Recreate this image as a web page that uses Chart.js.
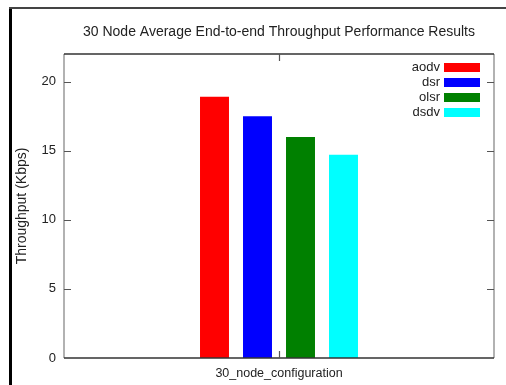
<!DOCTYPE html>
<html>
<head>
<meta charset="utf-8">
<title>30 Node Average End-to-end Throughput</title>
<script src="https://cdn.jsdelivr.net/npm/chart.js@4/dist/chart.umd.min.js"></script>
<style>
  html, body { margin: 0; padding: 0; background: #fff; }
  canvas { display: block; }
</style>
</head>
<body>
<canvas id="chart" width="506" height="385"></canvas>
<script>
const categories = ["30_node_configuration"];
const protocols = ["aodv", "dsr", "olsr", "dsdv"];
const throughput = [18.9, 17.5, 16.0, 14.7];
const colors = ["#ff0000", "#0000ff", "#008000", "#00ffff"];
const yTicks = [0, 5, 10, 15, 20];

const FONT = "'Liberation Sans', Arial, sans-serif";
const TEXT = "#222";

// frame, inward/mirrored ticks, title and the top-right legend
const gnuplotLook = {
  id: "gnuplotLook",
  beforeDraw(chart) {
    const ctx = chart.ctx;
    ctx.save();
    ctx.fillStyle = "#fff";
    ctx.fillRect(0, 0, chart.width, chart.height);
    // outer page border
    ctx.fillStyle = "#000";
    ctx.fillRect(9, 8, 3, chart.height - 8);
    ctx.fillStyle = "#444";
    ctx.fillRect(9, 7, chart.width - 9, 2);
    ctx.restore();
  },
  afterDraw(chart) {
    const { ctx, chartArea: a, scales } = chart;
    const y = scales.y, x = scales.x;
    ctx.save();

    // plot border
    ctx.lineWidth = 1.5;
    ctx.strokeStyle = "#999";
    ctx.beginPath();
    ctx.moveTo(a.left, a.top); ctx.lineTo(a.left, a.bottom);
    ctx.moveTo(a.right, a.top); ctx.lineTo(a.right, a.bottom);
    ctx.stroke();
    ctx.strokeStyle = "#333";
    ctx.beginPath();
    ctx.moveTo(a.left, a.top); ctx.lineTo(a.right, a.top);
    ctx.moveTo(a.left, a.bottom); ctx.lineTo(a.right, a.bottom);
    ctx.stroke();

    // ticks pointing inward, mirrored on the right
    ctx.lineWidth = 1.2;
    ctx.strokeStyle = "#555";
    ctx.beginPath();
    yTicks.forEach(v => {
      if (v === 0) return;
      const py = Math.round(y.getPixelForValue(v)) + 0.5;
      ctx.moveTo(a.left, py); ctx.lineTo(a.left + 7, py);
      ctx.moveTo(a.right, py); ctx.lineTo(a.right - 7, py);
    });
    const px = Math.round(x.getPixelForValue(0)) + 0.5;
    ctx.moveTo(px, a.bottom); ctx.lineTo(px, a.bottom - 7);
    ctx.moveTo(px, a.top); ctx.lineTo(px, a.top + 7);
    ctx.stroke();

    // title
    ctx.fillStyle = TEXT;
    ctx.font = "14px " + FONT;
    ctx.textAlign = "center";
    ctx.textBaseline = "middle";
    ctx.fillText("30 Node Average End-to-end Throughput Performance Results", (a.left + a.right) / 2, 32);

    // legend: label right-aligned, swatch to its right
    ctx.font = "13px " + FONT;
    ctx.textAlign = "right";
    chart.data.datasets.forEach((ds, i) => {
      const cy = 67.5 + i * 15;
      ctx.fillStyle = TEXT;
      ctx.fillText(ds.label, 440, cy);
      ctx.fillStyle = ds.backgroundColor;
      ctx.fillRect(444, cy - 4.5, 36, 9);
    });
    ctx.restore();
  }
};

new Chart(document.getElementById("chart"), {
  type: "bar",
  data: {
    labels: categories,
    datasets: protocols.map((p, i) => ({
      label: p,
      data: [throughput[i]],
      backgroundColor: colors[i],
      borderWidth: 0,
      categoryPercentage: 0.4,
      barPercentage: 0.674
    }))
  },
  options: {
    responsive: false,
    animation: false,
    layout: { padding: { top: 54, right: 12, left: 0, bottom: 0 } },
    plugins: {
      legend: { display: false },
      title: { display: false },
      tooltip: { enabled: false }
    },
    scales: {
      x: {
        grid: { display: false, drawTicks: false },
        border: { display: false },
        ticks: { color: TEXT, font: { family: FONT, size: 12.5 }, padding: 8 },
        afterFit(scale) { scale.height = 27; }
      },
      y: {
        min: 0,
        max: 22,
        grid: { display: false, drawTicks: false },
        border: { display: false },
        ticks: { stepSize: 5, color: TEXT, font: { family: FONT, size: 13 }, padding: 8 },
        afterBuildTicks(scale) {
          scale.ticks = yTicks.map(v => ({ value: v }));
        },
        title: {
          display: true,
          text: "Throughput (Kbps)",
          color: TEXT,
          font: { family: FONT, size: 14 },
          padding: { top: 14, bottom: 0 }
        },
        afterFit(scale) { scale.width = 64; }
      }
    }
  },
  plugins: [gnuplotLook]
});
</script>
</body>
</html>
